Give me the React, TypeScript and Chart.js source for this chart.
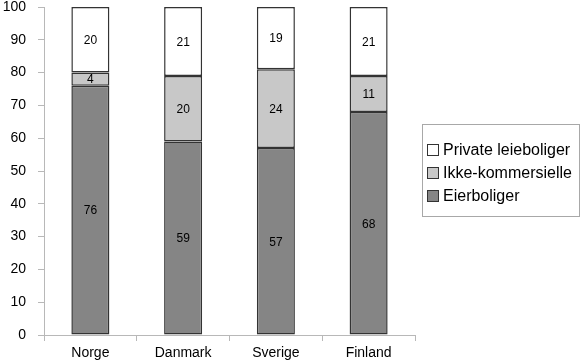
import React, { useEffect, useRef } from "react";
import { Chart, registerables } from "chart.js";

Chart.register(...registerables);

const categories = ["Norge", "Danmark", "Sverige", "Finland"];
const eierboliger = [76, 59, 57, 68];
const ikkeKommersielle = [4, 20, 24, 11];
const privateLeieboliger = [20, 21, 19, 21];
const seriesNames = ["Eierboliger", "Ikke-kommersielle", "Private leieboliger"];
const seriesColors = ["#858585", "#c8c8c8", "#ffffff"];
const yTicks = [0, 10, 20, 30, 40, 50, 60, 70, 80, 90, 100];

const FONT = "'Liberation Sans', Arial, Helvetica, sans-serif";

const valueLabels = {
  id: "valueLabels",
  afterDatasetsDraw(chart: any) {
    const ctx = chart.ctx;
    ctx.save();
    ctx.font = `12px ${FONT}`;
    ctx.fillStyle = "#000";
    ctx.textAlign = "center";
    ctx.textBaseline = "middle";
    chart.data.datasets.forEach((ds: any, di: number) => {
      const meta = chart.getDatasetMeta(di);
      meta.data.forEach((bar: any, i: number) => {
        const y = (bar.y + bar.base) / 2;
        ctx.fillText(String(ds.data[i]), bar.x, y + 1);
      });
    });
    ctx.restore();
  },
};

const boxLegend = {
  id: "boxLegend",
  afterDraw(chart: any) {
    const ctx = chart.ctx;
    ctx.save();
    const left = 422.5, top = 124.5, right = 579.5, bottom = 216.5;
    ctx.strokeStyle = "#a8a8a8";
    ctx.lineWidth = 1;
    ctx.strokeRect(left, top, right - left, bottom - top);
    ctx.font = `16px ${FONT}`;
    ctx.textBaseline = "middle";
    ctx.textAlign = "left";
    const rowsY = [150, 173, 196];
    const order = [2, 1, 0];
    order.forEach((di, r) => {
      const y = rowsY[r];
      ctx.fillStyle = chart.data.datasets[di].backgroundColor;
      ctx.fillRect(427.5, y - 5.5, 11, 11);
      ctx.strokeStyle = "#333";
      ctx.lineWidth = 1;
      ctx.strokeRect(427.5, y - 5.5, 11, 11);
      ctx.fillStyle = "#000";
      ctx.fillText(chart.data.datasets[di].label, 443, y + 1);
    });
    ctx.restore();
  },
};

export default function App() {
  const ref = useRef<HTMLCanvasElement>(null);
  useEffect(() => {
    document.body.style.margin = "0";
    const seriesData = [eierboliger, ikkeKommersielle, privateLeieboliger];
    const chart = new Chart(ref.current!, {
      type: "bar",
      data: {
        labels: categories,
        datasets: seriesData.map((d, i) => ({
          label: seriesNames[i],
          data: d,
          backgroundColor: seriesColors[i],
          borderColor: "#333333",
          borderWidth: 1.5,
          borderSkipped: false,
          categoryPercentage: 1,
          barPercentage: 0.41,
        })),
      },
      options: {
        responsive: false,
        animation: false,
        devicePixelRatio: 1,
        layout: { padding: { left: 0, top: 7, right: 165, bottom: 0 } },
        plugins: { legend: { display: false }, tooltip: { enabled: false } },
        scales: {
          x: {
            stacked: true,
            grid: { drawOnChartArea: false, drawTicks: true, tickLength: 6, color: "#b8b8b8", offset: true },
            border: { color: "#b8b8b8" },
            ticks: { color: "#000", font: { family: FONT, size: 14 }, padding: 4, maxRotation: 0 },
            afterFit: (s: any) => { s.height = 28; s.paddingLeft = 0; s.paddingRight = 0; },
          },
          y: {
            stacked: true,
            min: 0,
            max: 100,
            afterBuildTicks: (s: any) => { s.ticks = yTicks.map((v) => ({ value: v })); },
            grid: { drawOnChartArea: false, drawTicks: true, tickLength: 6, color: "#b8b8b8" },
            border: { color: "#b8b8b8" },
            ticks: { color: "#000", font: { family: FONT, size: 14 }, padding: 12 },
            afterFit: (s: any) => { s.width = 44; s.paddingTop = 0; s.paddingBottom = 0; },
          },
        },
      },
      plugins: [valueLabels, boxLegend],
    });
    return () => chart.destroy();
  }, []);
  return (
    <div style={{ position: "absolute", left: 0, top: 0, width: 580, height: 363 }}>
      <canvas ref={ref} width={580} height={363} style={{ width: 580, height: 363 }} />
    </div>
  );
}
